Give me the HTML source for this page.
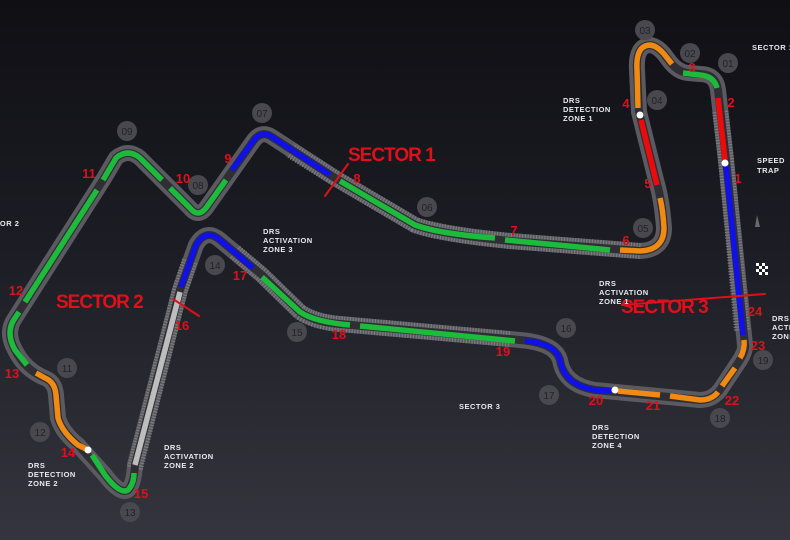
<!DOCTYPE html>
<html><head><meta charset="utf-8"><style>
html,body{margin:0;padding:0;}
body{width:790px;height:540px;overflow:hidden;background:linear-gradient(180deg,#0f0f14 0%,#1c1c24 45%,#35353f 100%);}
svg{display:block}
.w{font-family:"Liberation Sans",sans-serif;font-weight:bold;font-size:7.5px;fill:#e8e8ee;letter-spacing:0.5px}
.r{font-family:"Liberation Sans",sans-serif;font-weight:bold;font-size:13px;fill:#e0101a}
.s{font-family:"Liberation Sans",sans-serif;font-weight:bold;font-size:19px;fill:#e0101a;letter-spacing:-1px}
.c circle{fill:#48484e}
.c text{font-family:"Liberation Sans",sans-serif;font-size:10px;fill:#222228;text-anchor:middle}
</style></head><body>
<svg width="790" height="540" viewBox="0 0 790 540" xmlns="http://www.w3.org/2000/svg">
<defs>
<path id="trk" d="M745,345 L726,160 L718,90 Q716,74 700,74 L688,73 Q678,72 670,62 L664,54 Q652,40 642,48 Q636,54 637,70 L639,112 L656,180 Q662,200 664,228 Q664,250 640,251 L510,241 Q440,234 415,225 L335,178 L272,137 Q262,130 254,140 L206,208 Q198,218 190,208 L140,158 Q128,148 116,158 L103,180 L15,318 Q5,332 15,350 Q25,370 45,378 Q55,382 56,395 L58,418 Q62,432 78,445 L105,475 Q120,495 128,490 Q134,484 135,465 L180,290 L196,245 Q206,228 220,240 L262,275 L300,312 Q315,322 340,324 L520,340 Q555,343 560,360 Q564,385 595,390 L700,400 Q712,400 720,390 L740,360 Q746,350 745,345"/>
</defs>
<g fill="none" stroke-linecap="round" stroke-linejoin="round">
<use href="#trk" stroke="#5a5a60" stroke-width="16"/>
<g stroke="#7a7a80" stroke-width="16" stroke-dasharray="1.2 1.6" stroke-linecap="butt">
<path d="M742,330 L726,160 L720,110"/>
<path d="M640,251 L510,241 Q440,234 415,225 L330,175 L290,150"/>
<path d="M135,468 L180,290 L190,260"/>
<path d="M235,252 L262,275 L300,312 Q315,322 340,324 L510,339"/>
</g>
<use href="#trk" stroke="#2e2e34" stroke-width="8"/>
<g stroke-width="5.5" stroke-linecap="butt">
<path stroke="#1010e8" d="M743,335 L726,165"/>
<path stroke="#ee0a0a" d="M725,160 L718,98"/>
<path stroke="#1dbb3c" d="M717,88 Q714,76 700,75 L683,73"/>
<path stroke="#f08a12" d="M672,64 L664,54 Q652,40 642,48 Q636,54 637,70 L638,108"/>
<path stroke="#ee0a0a" d="M641,120 L657,185"/>
<path stroke="#f08a12" d="M660,198 Q663,210 664,228 Q664,250 640,251 L620,250"/>
<path stroke="#1dbb3c" d="M610,250 L505,240"/>
<path stroke="#1dbb3c" d="M495,238 Q440,234 415,225 L340,181"/>
<path stroke="#1010e8" d="M330,175 L272,137 Q262,130 254,140 L232,170"/>
<path stroke="#1dbb3c" d="M226,180 L206,208 Q198,218 190,208 L170,188"/>
<path stroke="#1dbb3c" d="M162,180 L140,158 Q128,148 116,158 L103,180"/>
<path stroke="#1dbb3c" d="M97,190 L25,302"/>
<path stroke="#1dbb3c" d="M19,312 L15,318 Q5,332 15,350 L27,365"/>
<path stroke="#f08a12" d="M36,373 L45,378 Q55,382 56,395 L58,418 Q62,432 78,445 L86,449"/>
<path stroke="#1dbb3c" d="M92,455 L105,475 Q120,495 128,490 Q134,484 134,473"/>
<path stroke="#bdbdbd" d="M135,465 L180,292"/>
<path stroke="#1010e8" d="M181,287 L196,245 Q206,228 220,240 L253,268"/>
<path stroke="#1dbb3c" d="M262,277 L300,312 Q315,322 350,325"/>
<path stroke="#1dbb3c" d="M360,326 L515,341"/>
<path stroke="#1010e8" d="M525,341 Q555,343 560,360 Q564,385 595,390 L612,391"/>
<path stroke="#f08a12" d="M618,391 L660,395"/>
<path stroke="#f08a12" d="M670,396 L700,400 Q712,400 718,392"/>
<path stroke="#f08a12" d="M722,386 L735,368"/>
<path stroke="#f08a12" d="M740,358 Q745,350 744,340"/>
</g>
<g stroke="#e0101a" stroke-width="2">
<line x1="325" y1="196" x2="348" y2="164"/>
<line x1="173" y1="299" x2="199" y2="316"/>
<line x1="622" y1="305" x2="765" y2="294"/>
</g>
</g>
<g fill="#fff"><circle cx="640" cy="115" r="3.5"/><circle cx="725" cy="163" r="3.5"/><circle cx="88" cy="450" r="3.5"/><circle cx="615" cy="390" r="3.5"/></g>
<g fill="#fff"><rect x="756" y="263" width="3" height="3"/><rect x="762" y="263" width="3" height="3"/><rect x="759" y="266" width="3" height="3"/><rect x="765" y="266" width="3" height="3"/><rect x="756" y="269" width="3" height="3"/><rect x="762" y="269" width="3" height="3"/><rect x="759" y="272" width="3" height="3"/><rect x="765" y="272" width="3" height="3"/></g>
<polygon points="757,215 755,227 760,227" fill="#6a6a70"/>
<g class="c">
<circle cx="645" cy="30" r="10"/><text x="645" y="34">03</text>
<circle cx="690" cy="53" r="10"/><text x="690" y="57">02</text>
<circle cx="728" cy="63" r="10"/><text x="728" y="67">01</text>
<circle cx="657" cy="100" r="10"/><text x="657" y="104">04</text>
<circle cx="643" cy="228" r="10"/><text x="643" y="232">05</text>
<circle cx="427" cy="207" r="10"/><text x="427" y="211">06</text>
<circle cx="262" cy="113" r="10"/><text x="262" y="117">07</text>
<circle cx="127" cy="131" r="10"/><text x="127" y="135">09</text>
<circle cx="198" cy="185" r="10"/><text x="198" y="189">08</text>
<circle cx="215" cy="265" r="10"/><text x="215" y="269">14</text>
<circle cx="297" cy="332" r="10"/><text x="297" y="336">15</text>
<circle cx="566" cy="328" r="10"/><text x="566" y="332">16</text>
<circle cx="549" cy="395" r="10"/><text x="549" y="399">17</text>
<circle cx="720" cy="418" r="10"/><text x="720" y="422">18</text>
<circle cx="763" cy="360" r="10"/><text x="763" y="364">19</text>
<circle cx="67" cy="368" r="10"/><text x="67" y="372">11</text>
<circle cx="40" cy="432" r="10"/><text x="40" y="436">12</text>
<circle cx="130" cy="512" r="10"/><text x="130" y="516">13</text>
</g>
<g class="r" text-anchor="middle">
<text x="738" y="183">1</text><text x="731" y="107">2</text><text x="692" y="72">3</text><text x="626" y="108">4</text>
<text x="648" y="188">5</text><text x="626" y="245">6</text><text x="514" y="235">7</text><text x="357" y="183">8</text>
<text x="228" y="163">9</text><text x="183" y="183">10</text><text x="89" y="178">11</text><text x="16" y="295">12</text>
<text x="12" y="378">13</text><text x="68" y="457">14</text><text x="141" y="498">15</text><text x="182" y="330">16</text>
<text x="240" y="280">17</text><text x="339" y="339">18</text><text x="503" y="356">19</text><text x="596" y="405">20</text>
<text x="653" y="410">21</text><text x="732" y="405">22</text><text x="758" y="350">23</text><text x="755" y="316">24</text>
</g>
<text class="s" x="348" y="161">SECTOR 1</text>
<text class="s" x="56" y="308">SECTOR 2</text>
<text class="s" x="621" y="313">SECTOR 3</text>
<g class="w">
<text x="752" y="50">SECTOR 1</text>
<text x="563" y="103">DRS</text><text x="563" y="112">DETECTION</text><text x="563" y="121">ZONE 1</text>
<text x="757" y="163">SPEED</text><text x="757" y="173">TRAP</text>
<text x="-22" y="226">SECTOR 2</text>
<text x="263" y="234">DRS</text><text x="263" y="243">ACTIVATION</text><text x="263" y="252">ZONE 3</text>
<text x="599" y="286">DRS</text><text x="599" y="295">ACTIVATION</text><text x="599" y="304">ZONE 1</text>
<text x="772" y="321">DRS</text><text x="772" y="330">ACTIVATION</text><text x="772" y="339">ZONE 1</text>
<text x="459" y="409">SECTOR 3</text>
<text x="592" y="430">DRS</text><text x="592" y="439">DETECTION</text><text x="592" y="448">ZONE 4</text>
<text x="28" y="468">DRS</text><text x="28" y="477">DETECTION</text><text x="28" y="486">ZONE 2</text>
<text x="164" y="450">DRS</text><text x="164" y="459">ACTIVATION</text><text x="164" y="468">ZONE 2</text>
</g>
</svg>
</body></html>
